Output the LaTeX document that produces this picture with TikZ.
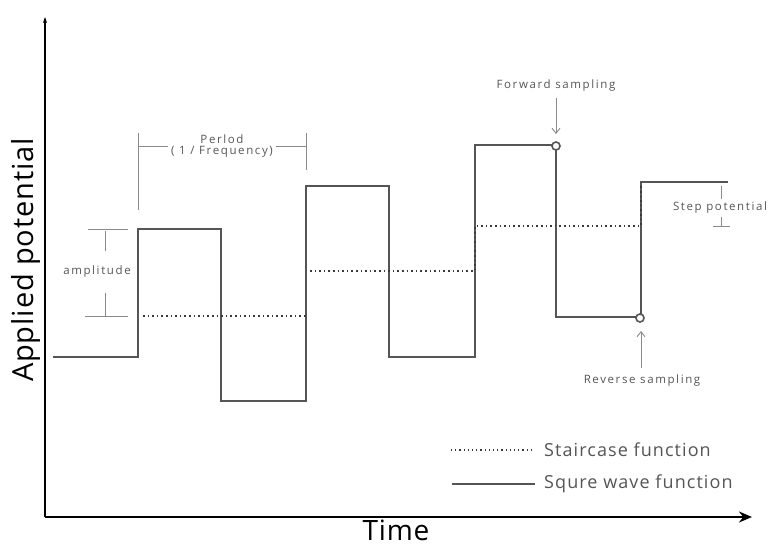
\documentclass[tikz,border=0pt]{standalone}
\usepackage{fontspec}
\setmainfont{Open Sans}
\newfontfamily\smallfam[LetterSpace=14]{Open Sans}
\newfontfamily\legfam[LetterSpace=6]{Open Sans}
\newfontfamily\bigfam[LetterSpace=3]{Open Sans}
\usetikzlibrary{arrows.meta}
\definecolor{wavec}{HTML}{555555}
\definecolor{stairc}{HTML}{3A3A3A}
\definecolor{annc}{HTML}{8A8A8A}
\begin{document}
\begin{tikzpicture}[x=1pt,y=-1pt,
  axisline/.style={line width=2.6pt,black},
  waveline/.style={line width=2.4pt,wavec,line join=miter},
  stairline/.style={line width=2.4pt,stairc,dash pattern=on 1.6pt off 3pt},
  annline/.style={line width=0.9pt,annc},
  smalltxt/.style={font=\smallfam\fontsize{11.5}{12.5}\selectfont,text=wavec,inner sep=1pt},
  legtxt/.style={font=\legfam\fontsize{18}{20}\selectfont,text=wavec,anchor=west,inner sep=0pt},
  sampdot/.style={circle,draw=wavec,line width=1.6pt,fill=white,inner sep=0pt,minimum size=8pt},
  samparrow/.style={annline,-{Straight Barb[length=5pt,width=8pt]}}]
\useasboundingbox (0,0) rectangle (771,548);
% axes
\coordinate (O) at (45,517);
\coordinate (ytop) at (45,17);
\coordinate (xend) at (752,517);
\draw[axisline,-{Stealth[length=6pt,width=4pt]}] (O) -- (ytop);
\draw[axisline,-{Stealth[length=13pt,width=11pt]}] (O) -- (xend);
\node[font=\bigfam\fontsize{29}{31}\selectfont,rotate=90] (ylab) at (26,260) {Applied potential};
\node[font=\bigfam\fontsize{28}{30}\selectfont,inner sep=0pt] (xlab) at (396,530) {Time};
% square wave
\coordinate (w0) at (53,357);
\coordinate (w1) at (138,357);
\coordinate (w2) at (138,229);
\coordinate (w3) at (221,229);
\coordinate (w4) at (221,401);
\coordinate (w5) at (306,401);
\coordinate (w6) at (306,186);
\coordinate (w7) at (389,186);
\coordinate (w8) at (389,357);
\coordinate (w9) at (475,357);
\coordinate (w10) at (475,145);
\coordinate (w11) at (556,145);
\coordinate (w12) at (556,317);
\coordinate (w13) at (641,317);
\coordinate (w14) at (641,182);
\coordinate (w15) at (728,182);
\draw[waveline] (w0) -- (w1) -- (w2) -- (w3) -- (w4) -- (w5) -- (w6) -- (w7) -- (w8) -- (w9) -- (w10) -- (w11) -- (w12) -- (w13) -- (w14) -- (w15);
% staircase
\coordinate (s1) at (143,316);
\coordinate (s2) at (306,316);
\coordinate (s3) at (310,271);
\coordinate (s4) at (475,271);
\coordinate (s5) at (475,226);
\coordinate (s6) at (641,226);
\coordinate (s7) at (641,184);
\draw[stairline] (s1) -- (s2);
\draw[stairline] (s3) -- (s4) -- (s5) -- (s6) -- (s7);
% sampling points
\node[sampdot] (fs) at (556,146) {};
\node[sampdot] (rs) at (640,318) {};
\node[smalltxt] (fstxt) at (556,86) {Forward sampling};
\node[smalltxt] (rstxt) at (642,381) {Reverse sampling};
\coordinate (fsa) at (556,98);
\coordinate (fsb) at (556,134);
\coordinate (rsa) at (641,368);
\coordinate (rsb) at (641,331);
\draw[samparrow] (fsa) -- (fsb);
\draw[samparrow] (rsa) -- (rsb);
% amplitude
\coordinate (at1) at (88,229);
\coordinate (at2) at (128,229);
\coordinate (ab1) at (85,316);
\coordinate (ab2) at (128,316);
\coordinate (av1) at (105,231);
\coordinate (av2) at (105,251);
\coordinate (av3) at (105,293);
\coordinate (av4) at (105,316);
\draw[annline] (at1) -- (at2);
\draw[annline] (ab1) -- (ab2);
\draw[annline] (av1) -- (av2);
\draw[annline] (av3) -- (av4);
\node[smalltxt] (amp) at (97,272) {amplitude};
% period
\coordinate (p1) at (138,133);
\coordinate (p2) at (138,210);
\coordinate (p3) at (306,133);
\coordinate (p4) at (306,170);
\coordinate (ph1) at (138,146);
\coordinate (ph2) at (168,146);
\coordinate (ph3) at (276,146);
\coordinate (ph4) at (306,146);
\draw[annline] (p1) -- (p2);
\draw[annline] (p3) -- (p4);
\draw[annline] (ph1) -- (ph2);
\draw[annline] (ph3) -- (ph4);
\node[smalltxt,align=center,font=\smallfam\fontsize{11.5}{11.5}\selectfont] (per) at (222,146) {Perlod\\( 1 / Frequency)};
% step potential
\coordinate (sp1) at (721,186);
\coordinate (sp2) at (721,199);
\coordinate (sp3) at (721,217);
\coordinate (sp4) at (721,226);
\coordinate (spt1) at (713,226);
\coordinate (spt2) at (730,226);
\draw[annline] (sp1) -- (sp2);
\draw[annline] (sp3) -- (sp4);
\draw[annline] (spt1) -- (spt2);
\node[smalltxt] (step) at (720,208) {Step potential};
% legend
\coordinate (l1a) at (451,450);
\coordinate (l1b) at (534,450);
\coordinate (l2a) at (452,484);
\coordinate (l2b) at (535,484);
\draw[stairline,line width=1.8pt,dash pattern=on 1.2pt off 3pt] (l1a) -- (l1b);
\draw[waveline] (l2a) -- (l2b);
\node[legtxt] (leg1) at (544,450) {Staircase function};
\node[legtxt] (leg2) at (544,484) {Squre wave function};
\end{tikzpicture}
\end{document}
